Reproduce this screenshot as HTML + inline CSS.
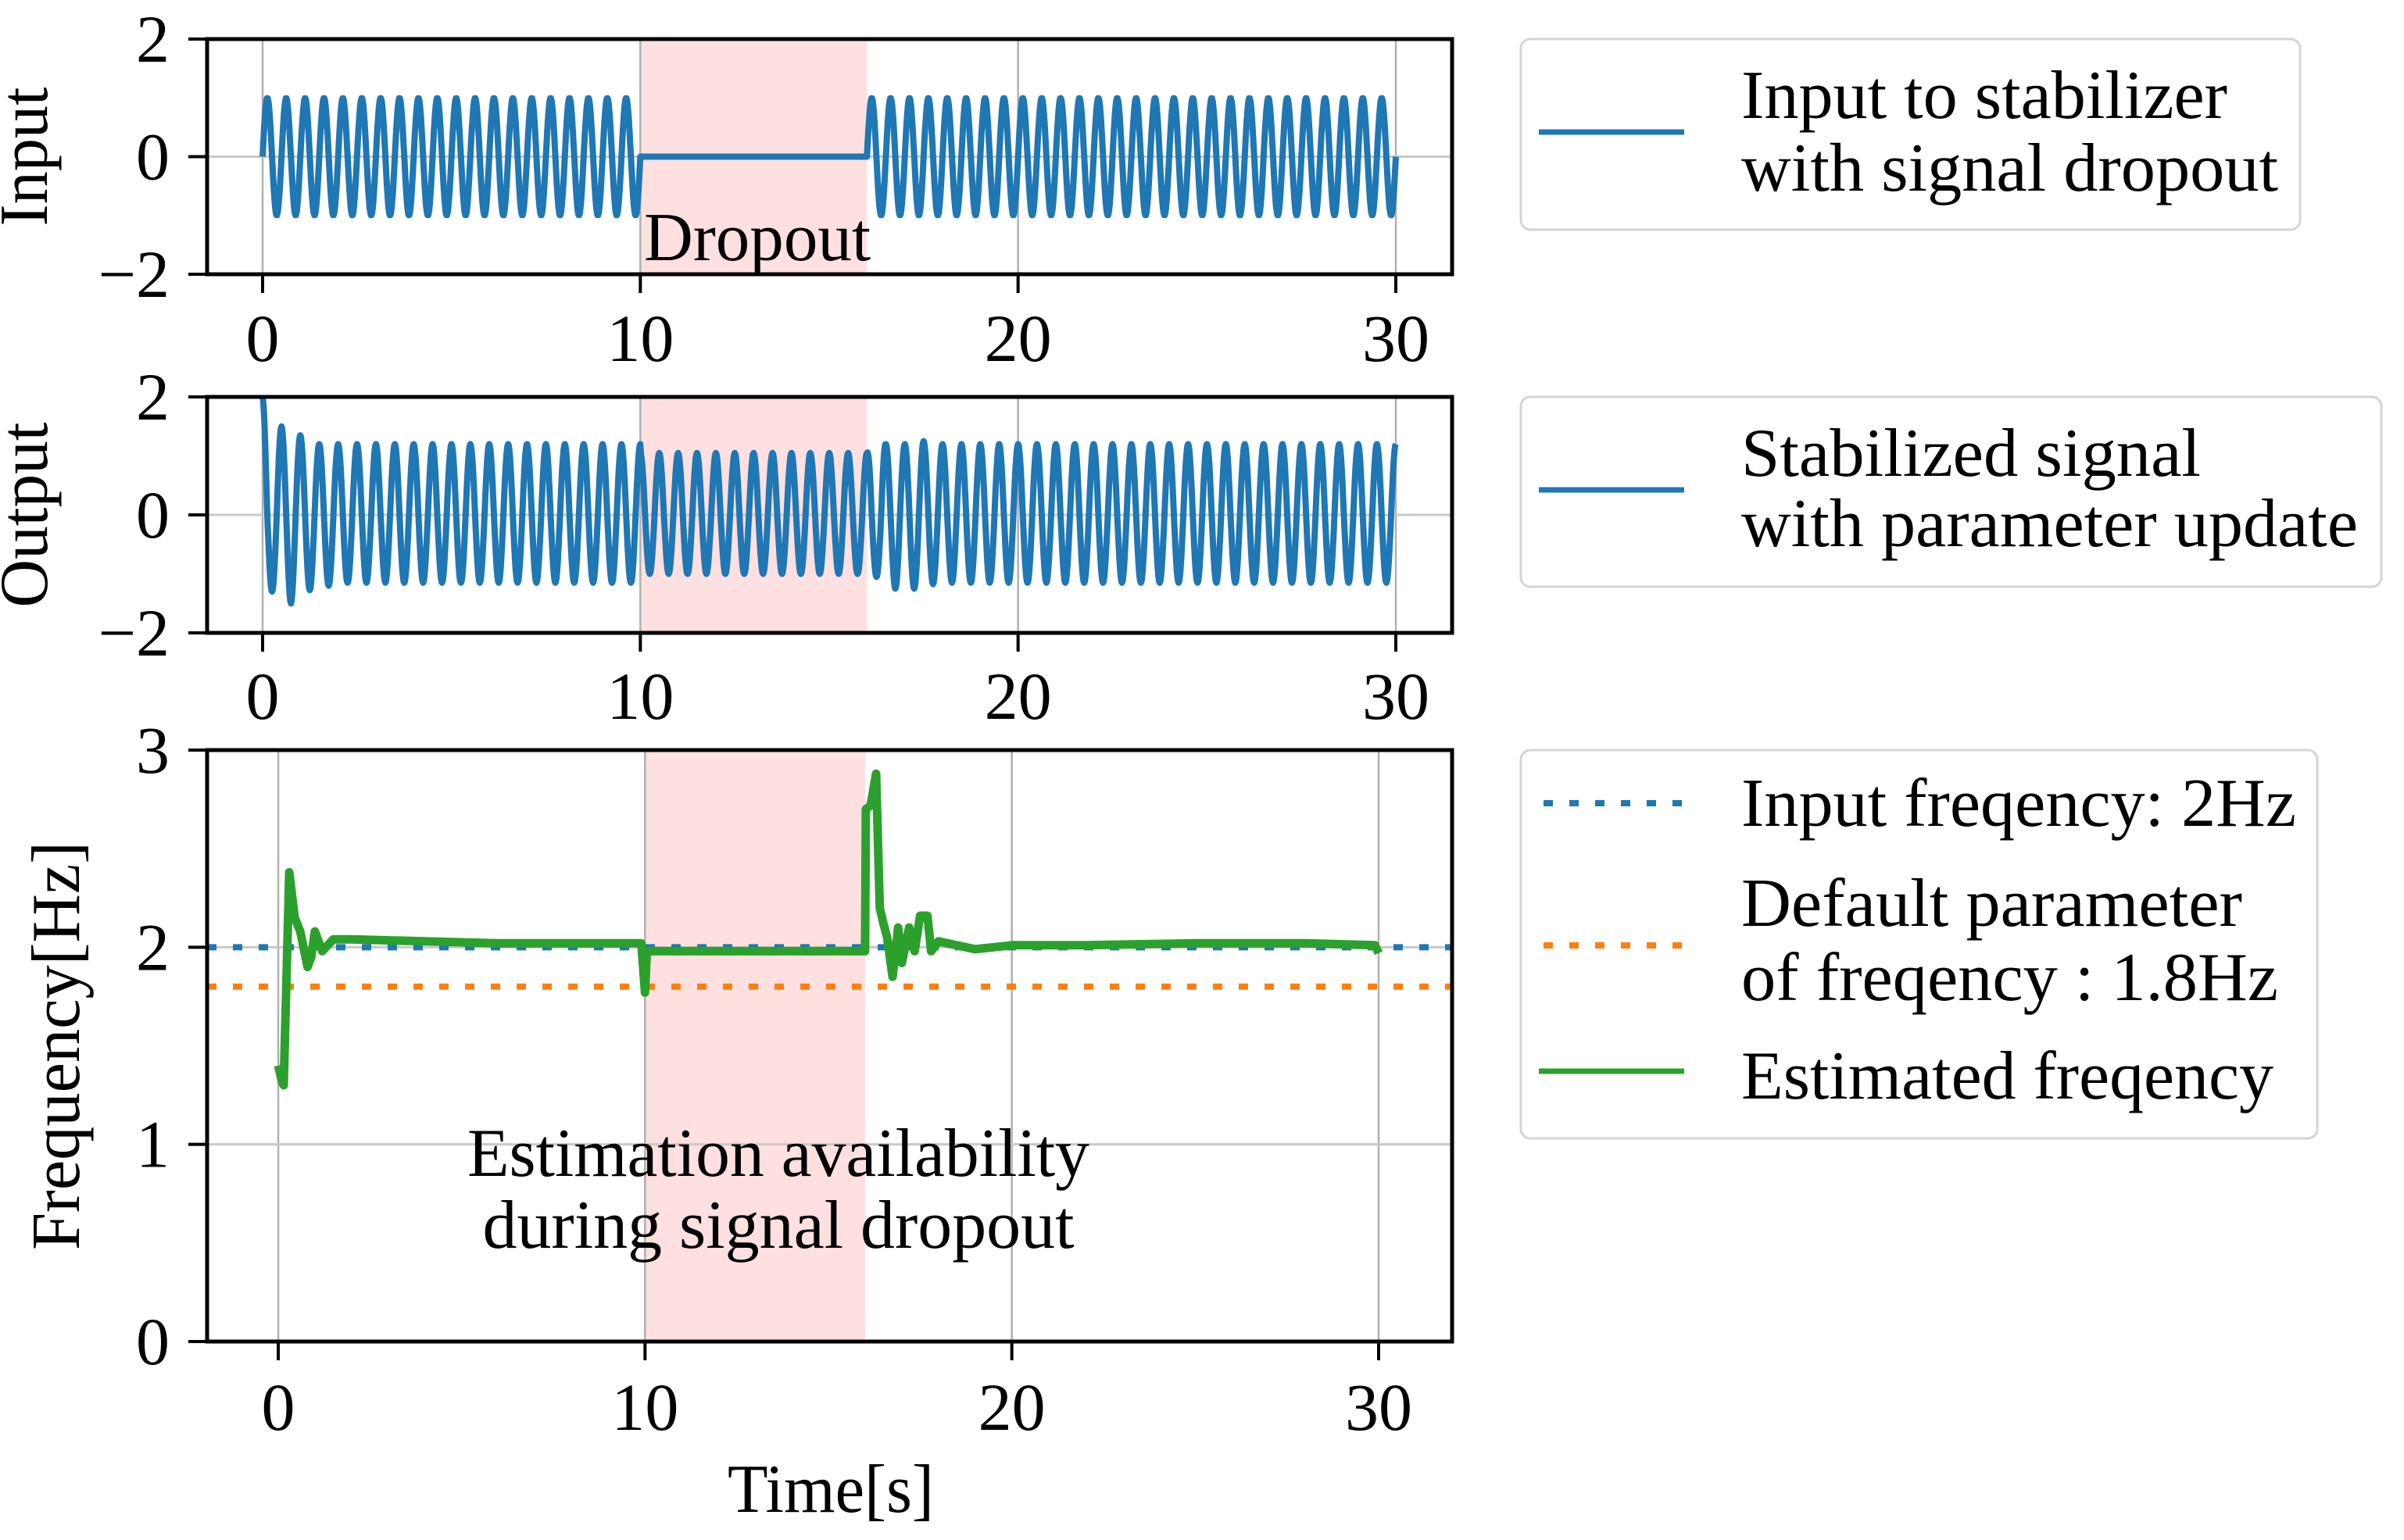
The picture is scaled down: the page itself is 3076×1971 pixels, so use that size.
<!DOCTYPE html>
<html><head><meta charset="utf-8"><style>
html,body{margin:0;padding:0;background:#fff;}
svg{display:block;font-family:"Liberation Serif",serif;}
</style></head><body>
<svg id="fig" width="3076" height="1971" viewBox="0 0 3076 1971" xmlns="http://www.w3.org/2000/svg">
<rect x="0" y="0" width="3076" height="1971" fill="#fff"/>
<g id="p1"></g>
<g id="p2"></g>
<g id="p3"></g>
<g id="legends">
  <g>
    <rect x="1946" y="50" width="997" height="244" rx="12" fill="#fff" stroke="#d4d4d4" stroke-width="3"/>
    <line x1="1969" y1="169" x2="2155" y2="169" stroke="#1f77b4" stroke-width="7"/>
    <text x="2228" y="151" font-size="88" textLength="622" lengthAdjust="spacingAndGlyphs">Input to stabilizer</text>
    <text x="2228" y="244" font-size="88" textLength="687" lengthAdjust="spacingAndGlyphs">with signal dropout</text>
  </g>
  <g>
    <rect x="1946" y="508" width="1101" height="243" rx="12" fill="#fff" stroke="#d4d4d4" stroke-width="3"/>
    <line x1="1969" y1="627" x2="2155" y2="627" stroke="#1f77b4" stroke-width="7"/>
    <text x="2228" y="609" font-size="88" textLength="588" lengthAdjust="spacingAndGlyphs">Stabilized signal</text>
    <text x="2228" y="699" font-size="88" textLength="789" lengthAdjust="spacingAndGlyphs">with parameter update</text>
  </g>
  <g>
    <rect x="1946" y="960" width="1019" height="497" rx="12" fill="#fff" stroke="#d4d4d4" stroke-width="3"/>
    <line x1="1975" y1="1028" x2="2155" y2="1028" stroke="#1f77b4" stroke-width="8" stroke-dasharray="12 21"/>
    <text x="2228" y="1057" font-size="88" textLength="710" lengthAdjust="spacingAndGlyphs">Input freqency: 2Hz</text>
    <line x1="1975" y1="1210" x2="2155" y2="1210" stroke="#ff7f0e" stroke-width="8" stroke-dasharray="12 21"/>
    <text x="2228" y="1185" font-size="88" textLength="641" lengthAdjust="spacingAndGlyphs">Default parameter</text>
    <text x="2228" y="1280" font-size="88" textLength="687" lengthAdjust="spacingAndGlyphs">of freqency : 1.8Hz</text>
    <line x1="1969" y1="1371" x2="2155" y2="1371" stroke="#2ca02c" stroke-width="7"/>
    <text x="2228" y="1406" font-size="88" textLength="681" lengthAdjust="spacingAndGlyphs">Estimated freqency</text>
  </g>
</g>
</svg>
<script>
// ---- data ----
const xTicks = [0, 10, 20, 30];
const signalTicks = [-2, 0, 2];
const freqTicks = [0, 1, 2, 3];
const dropoutSpan = [10, 16];
const inputFreqHz = 2;
// input segments: start, end, amplitude
const inputSegStart = [0, 10, 16];
const inputSegEnd = [10, 16, 30];
const inputSegAmp = [1.0, 0.0, 1.0];
// output envelope knots
const outEnvT = [0, 0.25, 0.5, 0.75, 1.0, 1.5, 2, 10, 10.01, 16, 16.25, 16.5, 17, 17.5, 18, 30];
const outUpper = [2.0, 1.5, 1.5, 1.4, 1.35, 1.2, 1.2, 1.2, 1.05, 1.05, 1.55, 1.2, 1.2, 1.25, 1.2, 1.2];
const outLower = [-1.3, -1.3, -1.3, -1.5, -1.3, -1.25, -1.15, -1.15, -1.0, -1.0, -1.05, -1.2, -1.3, -1.2, -1.15, -1.15];
// estimated frequency
const estT = [0, 0.1, 0.15, 0.3, 0.45, 0.6, 0.8, 0.9, 1.0, 1.2, 1.5, 2, 4, 6, 8, 9.9, 10, 10.05, 10.2, 12, 14, 16, 16.02, 16.15, 16.3, 16.4, 16.5, 16.6, 16.75, 16.9, 17.0, 17.2, 17.35, 17.5, 17.7, 17.8, 18, 19, 20, 22, 25, 28, 29.9, 30];
const estF = [1.4, 1.32, 1.3, 2.38, 2.15, 2.08, 1.9, 1.95, 2.08, 1.98, 2.04, 2.04, 2.03, 2.02, 2.02, 2.02, 1.77, 1.98, 1.98, 1.98, 1.98, 1.98, 2.7, 2.72, 2.88, 2.2, 2.12, 2.05, 1.85, 2.1, 1.92, 2.1, 1.98, 2.16, 2.16, 1.98, 2.03, 1.99, 2.01, 2.01, 2.02, 2.02, 2.01, 1.97];
const refFreq = [2.0, 1.8];
const refColors = ['#1f77b4', '#ff7f0e'];

const NS = 'http://www.w3.org/2000/svg';
function mk(parent, tag, attrs) {
  const e = document.createElementNS(NS, tag);
  for (const k in attrs) e.setAttribute(k, attrs[k]);
  parent.appendChild(e);
  return e;
}
function lerpArr(ts, vs, t) {
  if (t <= ts[0]) return vs[0];
  for (let i = 1; i < ts.length; i++) if (t <= ts[i]) {
    const f = (t - ts[i-1]) / (ts[i] - ts[i-1]); return vs[i-1] + f * (vs[i] - vs[i-1]);
  }
  return vs[vs.length - 1];
}

function panel(g, box, xd, yd, yticks, hgrid) {
  const sx = v => box.x0px + (v - xd[0]) * (box.x1px - box.x0px) / (xd[1] - xd[0]);
  const sy = v => box.bottom - (v - yd[0]) * (box.bottom - box.top) / (yd[1] - yd[0]);
  const sh = mk(g, 'rect', {x: sx(dropoutSpan[0]), y: box.top, width: sx(dropoutSpan[1]) - sx(dropoutSpan[0]), height: box.bottom - box.top, fill: '#ffe0e0'});
  
  
  xTicks.forEach(t => {
    const l = mk(g, 'line', {x1: sx(t), x2: sx(t), y1: box.top, y2: box.bottom, stroke: '#b0b0b0', 'stroke-width': 2.5});
    
    
  });
  hgrid.forEach(v => {
    const l = mk(g, 'line', {x1: box.left, x2: box.right, y1: sy(v), y2: sy(v), stroke: '#c8c8c8', 'stroke-width': 3});
    
    
  });
  return {sx, sy};
}
function frame(g, box, xd, yd, yticks, ylabel, ylabelX, ylabelLen, tickLabelBase) {
  const sx = v => box.x0px + (v - xd[0]) * (box.x1px - box.x0px) / (xd[1] - xd[0]);
  const sy = v => box.bottom - (v - yd[0]) * (box.bottom - box.top) / (yd[1] - yd[0]);
  const r = mk(g, 'rect', {x: box.left, y: box.top, width: box.right - box.left, height: box.bottom - box.top, fill: 'none', stroke: '#000', 'stroke-width': 5});
  
  
  xTicks.forEach(t => {
    mk(g, 'line', {x1: sx(t), x2: sx(t), y1: box.bottom, y2: box.bottom + 24, stroke: '#000', 'stroke-width': 4});
    const tx = mk(g, 'text', {x: sx(t), y: tickLabelBase, 'font-size': 86, 'text-anchor': 'middle'});
    tx.textContent = t;
    
    
  });
  yticks.forEach(v => {
    mk(g, 'line', {x1: box.left - 24, x2: box.left, y1: sy(v), y2: sy(v), stroke: '#000', 'stroke-width': 4});
    const tx = mk(g, 'text', {x: box.left - 48, y: sy(v) + 29, 'font-size': 86, 'text-anchor': 'end'});
    tx.textContent = v < 0 ? '\u2212' + Math.abs(v) : v;
    
    
  });
  const cy = (box.top + box.bottom) / 2;
  const yl = mk(g, 'text', {x: 0, y: 0, 'font-size': 88, 'text-anchor': 'middle', textLength: ylabelLen, lengthAdjust: 'spacingAndGlyphs', transform: `translate(${ylabelX},${cy}) rotate(-90)`});
  yl.textContent = ylabel;
  
  
}

// Panel 1
const b1 = {left: 265, right: 1858, top: 50, bottom: 351, x0px: 336, x1px: 1786};
const g1 = document.getElementById('p1');
const a1 = panel(g1, b1, [0, 30], [-2, 2], signalTicks, [0]);
let d = '';
for (let s = 0; s < inputSegStart.length; s++) {
  const n = Math.round((inputSegEnd[s] - inputSegStart[s]) * 60);
  for (let i = 0; i <= n; i++) {
    const t = inputSegStart[s] + (inputSegEnd[s] - inputSegStart[s]) * i / n;
    const v = inputSegAmp[s] * Math.sin(2 * Math.PI * inputFreqHz * t);
    d += (d ? 'L' : 'M') + a1.sx(t).toFixed(1) + ' ' + a1.sy(v).toFixed(1);
  }
}
const l1 = mk(g1, 'path', {d: d, fill: 'none', stroke: '#1f77b4', 'stroke-width': 8, 'stroke-linejoin': 'round'});


frame(g1, b1, [0, 30], [-2, 2], signalTicks, 'Input', 60, 178, 462);
const dt = mk(g1, 'text', {x: 969, y: 333, 'font-size': 88, 'text-anchor': 'middle', textLength: 290, lengthAdjust: 'spacingAndGlyphs'});
dt.textContent = 'Dropout';



// Panel 2
const b2 = {left: 265, right: 1858, top: 508, bottom: 810, x0px: 336, x1px: 1786};
const g2 = document.getElementById('p2');
const a2 = panel(g2, b2, [0, 30], [-2, 2], signalTicks, [0]);
d = '';
const n2 = 30 * 60;
for (let i = 0; i <= n2; i++) {
  const t = 30 * i / n2;
  const c = Math.cos(2 * Math.PI * inputFreqHz * t);
  const v = c >= 0 ? c * lerpArr(outEnvT, outUpper, t) : -c * lerpArr(outEnvT, outLower, t);
  d += (d ? 'L' : 'M') + a2.sx(t).toFixed(1) + ' ' + a2.sy(v).toFixed(1);
}
const l2 = mk(g2, 'path', {d: d, fill: 'none', stroke: '#1f77b4', 'stroke-width': 8, 'stroke-linejoin': 'round'});


frame(g2, b2, [0, 30], [-2, 2], signalTicks, 'Output', 60, 237, 920);

// Panel 3
const b3 = {left: 265, right: 1858, top: 960, bottom: 1717, x0px: 356, x1px: 1764};
const g3 = document.getElementById('p3');
const a3 = panel(g3, b3, [0, 30], [0, 3], freqTicks, [1, 2]);
refFreq.forEach((f, i) => {
  const l = mk(g3, 'line', {x1: b3.left, x2: b3.right, y1: a3.sy(f), y2: a3.sy(f), stroke: refColors[i], 'stroke-width': 8, 'stroke-dasharray': '12 21'});
  
  
});
d = '';
estT.forEach((t, i) => { d += (i ? 'L' : 'M') + a3.sx(t).toFixed(1) + ' ' + a3.sy(estF[i]).toFixed(1); });
const l3 = mk(g3, 'path', {d: d, fill: 'none', stroke: '#2ca02c', 'stroke-width': 11, 'stroke-linejoin': 'round'});


frame(g3, b3, [0, 30], [0, 3], freqTicks, 'Frequency[Hz]', 101, 523, 1830);
const e1 = mk(g3, 'text', {x: 996, y: 1505, 'font-size': 88, 'text-anchor': 'middle', textLength: 796, lengthAdjust: 'spacingAndGlyphs'});
e1.textContent = 'Estimation availability';


const e2 = mk(g3, 'text', {x: 996, y: 1597, 'font-size': 88, 'text-anchor': 'middle', textLength: 757, lengthAdjust: 'spacingAndGlyphs'});
e2.textContent = 'during signal dropout';


const xt = mk(g3, 'text', {x: 1063, y: 1935, 'font-size': 88, 'text-anchor': 'middle', textLength: 264, lengthAdjust: 'spacingAndGlyphs'});
xt.textContent = 'Time[s]';


</script>
</body></html>
